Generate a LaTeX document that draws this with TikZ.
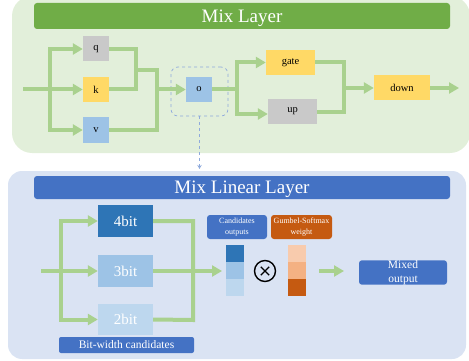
\documentclass[tikz,border=0pt]{standalone}
\usepackage{fontspec}
\setmainfont{Liberation Serif}
\usetikzlibrary{arrows.meta}
\definecolor{pgreen}{HTML}{E2EFDA}
\definecolor{tgreen}{HTML}{70AD47}
\definecolor{lgreen}{HTML}{A9D18E}
\definecolor{bgray}{HTML}{C9C9C9}
\definecolor{byellow}{HTML}{FFD966}
\definecolor{lblue}{HTML}{9DC3E6}
\definecolor{llblue}{HTML}{BDD7EE}
\definecolor{dblue}{HTML}{2E75B6}
\definecolor{tblue}{HTML}{4472C4}
\definecolor{pblue}{HTML}{DAE3F3}
\definecolor{dashblue}{HTML}{8FAADC}
\definecolor{dorange}{HTML}{C55A11}
\definecolor{morange}{HTML}{F4B183}
\definecolor{lorange}{HTML}{F8CBAD}
\begin{document}
\begin{tikzpicture}[x=1pt,y=-1pt,
  box/.style={draw=none, inner sep=0pt, minimum width=26pt, minimum height=25pt, font=\fontsize{10.5}{12}\selectfont},
  bitbox/.style={draw=none, inner sep=0pt, minimum width=55pt, minimum height=32pt, text=white, text depth=0pt, font=\fontsize{15}{18}\selectfont},
  cell/.style={draw=none, inner sep=0pt, minimum width=18pt, minimum height=17pt},
  tag/.style={draw=none, rounded corners=3pt, inner sep=0pt, text=white, align=center},
  flow/.style={draw=lgreen, line width=4pt, line join=miter, -{Triangle[length=10pt,width=11pt]}},
  link/.style={draw=lgreen, line width=4pt, line join=miter},
  titlebar/.style={draw=none, rounded corners=3pt, inner sep=0pt, text=white, text depth=0pt, font=\fontsize{19}{22}\selectfont},
]
\useasboundingbox (0,0) rectangle (469,361);
% panels
\fill[pgreen, rounded corners=20pt] (12,-4) rectangle (470,153);
\fill[pblue, rounded corners=14pt] (8,171) rectangle (466,359);

% ---------- Mix Layer ----------
\node[titlebar, fill=tgreen, minimum width=416pt, minimum height=26pt] (t1) at (242,16) {Mix Layer};

\node[box, fill=bgray] (q) at (96,49) {q};
\node[box, fill=byellow] (k) at (96,89.5) {k};
\node[box, fill=lblue, minimum height=26pt] (v) at (96,130) {v};
\node[box, fill=lblue] (o) at (199,89.5) {o};
\node[draw=dashblue, dashed, line width=0.7pt, rounded corners=7pt, minimum width=57pt, minimum height=49pt] (dbox) at (199.5,91.5) {};
\node[box, fill=byellow, minimum width=49pt] (gate) at (290.5,62.5) {gate};
\node[box, fill=bgray, minimum width=49pt] (up) at (292.5,111.5) {up};
\node[box, fill=byellow, minimum width=56pt] (down) at (402,88) {down};

\coordinate (in1) at (23,89.5);
\coordinate (s1) at (50,89.5);
\coordinate (j1) at (136,89.5);
\coordinate (m1) at (136,70);
\coordinate (m2) at (157,70);
\coordinate (j2) at (157,89.5);
\coordinate (s2) at (237,89.5);
\coordinate (j3) at (344,112);
\coordinate (j4) at (344,88);
\coordinate (out1) at (459,88);

\draw[flow] (in1) -- (k);
\draw[flow] (s1) |- (q);
\draw[flow] (s1) |- (v);
\draw[link] (q.east) -| (j1) -- (k.east);
\draw[link] (m1) -- (m2) |- (v.east);
\draw[flow] (j2) -- (o);
\draw[link] (o.east) -- (s2);
\draw[flow] (s2) |- (gate);
\draw[flow] (s2) |- ([yshift=-2.5pt]up.west);
\draw[link] (gate.east) -| (j3) -- ([yshift=-0.5pt]up.east);
\draw[flow] (j4) -- (down);
\draw[flow] (down) -- (out1);

\coordinate (dend) at (199.5,169);
\draw[dashblue, dashed, line width=0.8pt, -{Stealth[length=4pt,width=4.5pt,open]}] (dbox.south) -- (dend);

% ---------- Mix Linear Layer ----------
\node[titlebar, fill=tblue, minimum width=416pt, minimum height=23pt] (t2) at (242,187.5) {Mix Linear Layer};

\node[bitbox, fill=dblue] (b4) at (125.5,221) {4bit};
\node[bitbox, fill=lblue] (b3) at (125.5,271) {3bit};
\node[bitbox, fill=llblue, minimum height=31pt] (b2) at (125.5,319.5) {2bit};
\node[tag, rounded corners=2pt, fill=tblue, minimum width=135pt, minimum height=16pt, font=\fontsize{11.5}{13}\selectfont] (bw) at (126.5,345) {Bit-width candidates};

\coordinate (in2) at (41,271);
\coordinate (s3) at (61,271);
\coordinate (j5) at (193,320);
\draw[flow] (in2) -- (b3);
\draw[flow] (s3) |- (b4);
\draw[flow] (s3) |- (b2);
\draw[link] (b4.east) -| (j5) -- (b2.east);

\node[cell, fill=dblue] (c1) at (235,253.5) {};
\node[cell, fill=lblue] (c2) at (235,270.5) {};
\node[cell, fill=llblue] (c3) at (235,287.5) {};
\coordinate (cin) at (222,271);
\draw[flow] (b3.east) -- (cin);

\node[tag, fill=tblue, minimum width=60pt, minimum height=24pt, font=\fontsize{8}{10.5}\selectfont] (cand) at (237,227) {Candidates\\outputs};
\node[tag, fill=dorange, minimum width=61pt, minimum height=24pt, font=\fontsize{8}{10.5}\selectfont] (gum) at (301.5,227) {Gumbel-Softmax\\weight};

\node[circle, draw=black, line width=1.4pt, minimum size=21pt, inner sep=0pt] (ot) at (265,271) {};
\draw[line width=1.4pt] ([shift={(-4.2pt,-4.2pt)}]ot.center) -- ([shift={(4.2pt,4.2pt)}]ot.center);
\draw[line width=1.4pt] ([shift={(-4.2pt,4.2pt)}]ot.center) -- ([shift={(4.2pt,-4.2pt)}]ot.center);

\node[cell, fill=lorange] (w1) at (296.5,253.5) {};
\node[cell, fill=morange] (w2) at (296.5,270.5) {};
\node[cell, fill=dorange] (w3) at (296.5,287.5) {};

\node[tag, fill=tblue, minimum width=88pt, minimum height=23pt, font=\fontsize{11.5}{14}\selectfont] (mix) at (403,272.5) {Mixed\\output};
\coordinate (a1) at (319,271);
\coordinate (a2) at (344,271);
\draw[flow] (a1) -- (a2);
\end{tikzpicture}
\end{document}
